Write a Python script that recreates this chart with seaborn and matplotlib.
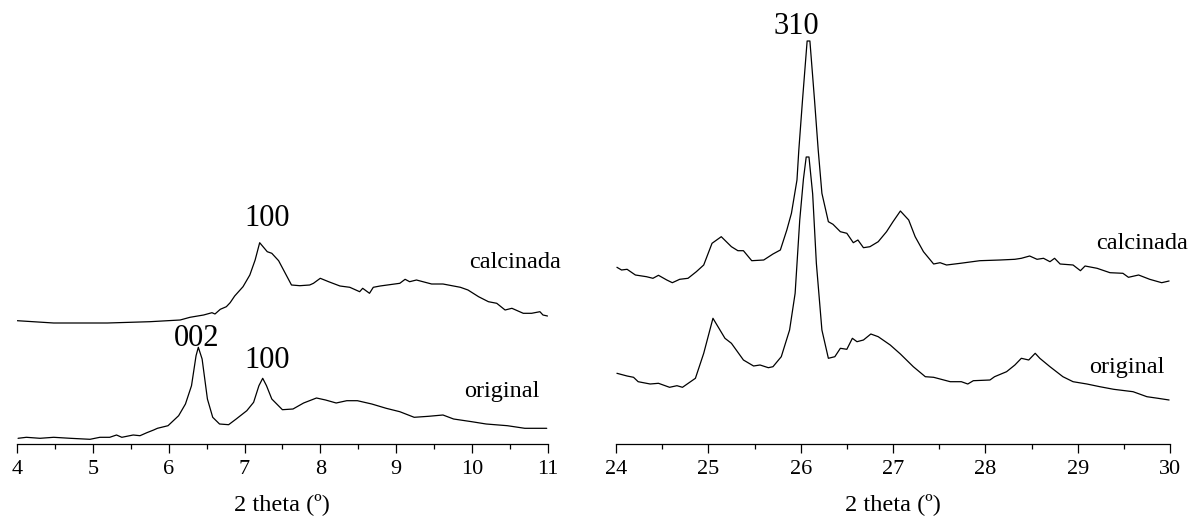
import numpy as np
import pandas as pd
import matplotlib
matplotlib.use("Agg")
import matplotlib.pyplot as plt
import seaborn as sns

# ---------------- data (arbitrary intensity units) -------------
left_calc_x = [4.0, 4.48, 5.19, 5.75, 6.15, 6.28, 6.46, 6.57, 6.61, 6.68, 6.76, 6.81,
               6.87, 6.98, 7.07, 7.14, 7.20, 7.30, 7.36, 7.45, 7.62, 7.73, 7.86, 7.91,
               8.00, 8.11, 8.26, 8.39, 8.52, 8.56, 8.65, 8.70, 8.79, 9.05, 9.12, 9.18,
               9.27, 9.47, 9.62, 9.85, 9.95, 10.09, 10.22, 10.33, 10.44, 10.53, 10.68,
               10.79, 10.90, 10.94, 11.0]
left_calc_y = [123.3, 121.0, 121.0, 122.3, 124.0, 126.7, 129.0, 131.3, 130.0, 134.7,
               137.3, 141.3, 148.0, 157.3, 169.0, 184.0, 201.3, 192.3, 190.7, 183.3,
               159.0, 158.3, 159.0, 160.7, 165.7, 162.3, 158.0, 156.7, 152.3, 155.7,
               150.7, 156.7, 158.0, 160.7, 164.7, 162.3, 164.0, 160.0, 160.0, 156.7,
               154.0, 147.3, 142.3, 140.7, 134.0, 135.7, 130.7, 130.7, 132.3, 129.0, 128.0]

left_orig_x = [4.01, 4.12, 4.30, 4.48, 4.70, 4.96, 5.09, 5.22, 5.31, 5.38, 5.53, 5.62,
               5.71, 5.80, 5.85, 5.99, 6.13, 6.22, 6.3, 6.36, 6.39, 6.44, 6.51, 6.58,
               6.67, 6.79, 6.89, 7.03, 7.12, 7.19, 7.24, 7.29, 7.36, 7.5, 7.64, 7.78,
               7.95, 8.07, 8.21, 8.35, 8.49, 8.68, 8.87, 9.05, 9.24, 9.43, 9.62, 9.76,
               10.0, 10.19, 10.47, 10.7, 10.99]
left_orig_y = [5.7, 6.7, 5.7, 6.7, 5.7, 4.7, 6.7, 6.7, 9.0, 6.7, 9.0, 8.3, 11.3, 14.0,
               15.7, 18.3, 28.3, 40.0, 58.3, 88.3, 96.7, 85.0, 45.0, 26.7, 20.0, 19.3,
               25.0, 33.3, 41.7, 58.3, 65.7, 58.3, 45.0, 34.3, 35.0, 41.0, 46.0, 44.0,
               41.0, 43.3, 43.3, 40.0, 35.7, 32.3, 26.7, 27.7, 29.0, 25.0, 22.3, 20.0,
               18.3, 15.7, 15.7]

right_calc_x = [24.01, 24.06, 24.12, 24.21, 24.33, 24.40, 24.46, 24.55, 24.61, 24.69,
                24.78, 24.87, 24.95, 25.04, 25.14, 25.25, 25.32, 25.38, 25.47, 25.60,
                25.70, 25.78, 25.85, 25.90, 25.96, 25.98, 26.02, 26.07, 26.10, 26.15,
                26.19, 26.23, 26.30, 26.35, 26.43, 26.50, 26.57, 26.62, 26.68, 26.75,
                26.84, 26.93, 27.00, 27.08, 27.17, 27.24, 27.33, 27.44, 27.51, 27.58,
                27.73, 27.94, 28.16, 28.32, 28.39, 28.48, 28.56, 28.63, 28.70, 28.75,
                28.81, 28.95, 29.03, 29.08, 29.21, 29.35, 29.49, 29.55, 29.66, 29.78,
                29.91, 29.99]
right_calc_y = [176.7, 174.0, 174.7, 169.0, 167.3, 165.7, 168.7, 164.0, 161.3, 164.7,
                165.7, 172.3, 179.0, 200.7, 207.3, 197.3, 193.3, 193.3, 183.3, 184.0,
                190.0, 194.0, 214.0, 230.7, 264.0, 294.0, 344.0, 403.0, 403.0, 344.0,
                294.0, 250.7, 222.3, 219.7, 212.3, 210.7, 201.3, 204.0, 196.3, 197.3,
                202.3, 212.3, 222.3, 233.0, 224.0, 207.3, 192.3, 180.0, 181.3, 179.0,
                180.7, 183.3, 184.0, 184.7, 185.7, 188.0, 184.7, 185.7, 182.3, 185.7,
                180.0, 179.0, 173.3, 178.0, 175.7, 171.3, 170.7, 166.7, 169.0, 164.7,
                161.3, 163.0]

right_orig_x = [24.01, 24.12, 24.19, 24.24, 24.37, 24.46, 24.58, 24.66, 24.72, 24.86,
                24.95, 25.05, 25.18, 25.25, 25.38, 25.49, 25.56, 25.65, 25.70, 25.79,
                25.88, 25.94, 25.99, 26.03, 26.06, 26.09, 26.13, 26.17, 26.23, 26.30,
                26.37, 26.43, 26.50, 26.56, 26.61, 26.68, 26.76, 26.84, 26.97, 27.08,
                27.22, 27.35, 27.44, 27.62, 27.74, 27.81, 27.87, 28.05, 28.10, 28.23,
                28.32, 28.39, 28.47, 28.54, 28.59, 28.70, 28.84, 28.95, 29.10, 29.24,
                29.39, 29.60, 29.75, 29.87, 29.99]
right_orig_y = [70.7, 68.0, 66.7, 62.3, 60.0, 60.7, 56.7, 58.3, 56.7, 65.7,
                90.7, 125.7, 105.7, 100.7, 84.0, 78.0, 79.0, 76.3, 77.3, 87.3,
                114.0, 150.7, 224.0, 265.0, 287.0, 287.0, 250.0, 180.7, 114.0, 85.7,
                87.3, 95.7, 94.7, 105.7, 102.3, 104.0, 110.0, 107.3, 99.0, 90.0,
                77.3, 67.3, 66.7, 62.3, 62.3, 60.0, 63.3, 64.0, 67.3, 72.3,
                79.0, 85.7, 84.0, 90.7, 85.7, 77.3, 67.3, 62.3, 60.0, 57.3,
                54.7, 52.3, 47.3, 45.7, 44.0]

left_ticks = [4, 5, 6, 7, 8, 9, 10, 11]
right_ticks = [24, 25, 26, 27, 28, 29, 30]
xlabel = "2 theta (º)"

# peak labels: (text, x, y)
left_peaks = [("100", 7.30, 226), ("002", 6.37, 105), ("100", 7.30, 83)]
right_peaks = [("310", 25.95, 418)]
left_names = [("calcinada", 10.57, 182), ("original", 10.40, 52)]
right_names = [("calcinada", 29.70, 201), ("original", 29.53, 77)]

# ---------------- style -------------
sns.set_style("ticks")
plt.rcParams['font.family'] = ['Liberation Serif', 'DejaVu Serif']
plt.rcParams['axes.linewidth'] = 0.9

W, H = 1192, 517
fig = plt.figure(figsize=(W / 100, H / 100), dpi=100)

def px_axes(x0, x1, ybot, ytop):
    return fig.add_axes([x0 / W, (H - ybot) / H, (x1 - x0) / W, (ybot - ytop) / H])

axL = px_axes(17.3, 547.5, 444, 5)
axR = px_axes(616, 1170, 444, 5)

def draw(ax, series, ticks, peaks, names):
    for xs, ys in series:
        df = pd.DataFrame({"x": xs, "y": ys})
        sns.lineplot(data=df, x="x", y="y", ax=ax, color="black", lw=0.9,
                     sort=False, estimator=None)
    ax.set_xlim(ticks[0], ticks[-1])
    ax.set_ylim(0, 439)
    ax.set_xticks(ticks)
    ax.set_xticks(np.arange(ticks[0], ticks[-1] + 0.01, 0.5), minor=True)
    ax.tick_params(axis='x', which='major', length=6.5, width=0.9, labelsize=16,
                   direction='out', pad=5.0, color='black', labelcolor='black')
    ax.tick_params(axis='x', which='minor', length=3.3, width=0.9, direction='out',
                   color='black')
    ax.set_yticks([])
    ax.set_ylabel("")
    ax.set_xlabel(xlabel, fontsize=17.5, labelpad=10.5, color='black')
    sns.despine(ax=ax, left=True, top=True, right=True)
    ax.spines['bottom'].set_color('black')
    ax.patch.set_alpha(0)
    for t, x, y in peaks:
        ax.text(x, y, t, fontsize=22, ha='center', va='center', color='black',
                clip_on=False)
    for t, x, y in names:
        ax.text(x, y, t, fontsize=17.5, ha='center', va='center', color='black',
                clip_on=False)

draw(axL, [(left_calc_x, left_calc_y), (left_orig_x, left_orig_y)], left_ticks,
     left_peaks, left_names)
draw(axR, [(right_calc_x, right_calc_y), (right_orig_x, right_orig_y)], right_ticks,
     right_peaks, right_names)

fig.savefig("out.png", dpi=100)
